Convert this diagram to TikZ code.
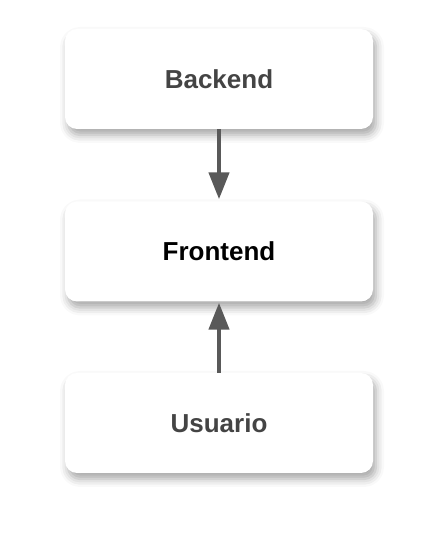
\documentclass[tikz,border=0pt]{standalone}
\usepackage{fontspec}
\setmainfont{Liberation Sans}
\usetikzlibrary{arrows.meta,shadows.blur}
\definecolor{txtgray}{HTML}{444444}
\definecolor{arrgray}{HTML}{595959}
\begin{document}
\begin{tikzpicture}[x=1pt,y=1pt,
  box/.style={draw=none,fill=white,rounded corners=12pt,minimum width=308pt,minimum height=100pt,
    blur shadow={shadow xshift=3pt,shadow yshift=-6pt,shadow blur radius=8pt,shadow opacity=35},
    font=\fontsize{26}{31}\selectfont\bfseries},
  conn/.style={draw=arrgray,line width=4.5pt,-{Triangle[length=27pt,width=20pt]}}]
\useasboundingbox (0,0) rectangle (437,542);
\node[box,text=txtgray] (back) at (219,463) {Backend};
\node[box,text=black] (front) at (219,290.5) {Frontend};
\node[box,text=txtgray] (user) at (219,119) {Usuario};
\draw[conn] (back.south) -- ([yshift=2pt]front.north);
\draw[conn] (user.north) -- ([yshift=-1pt]front.south);
\end{tikzpicture}
\end{document}
